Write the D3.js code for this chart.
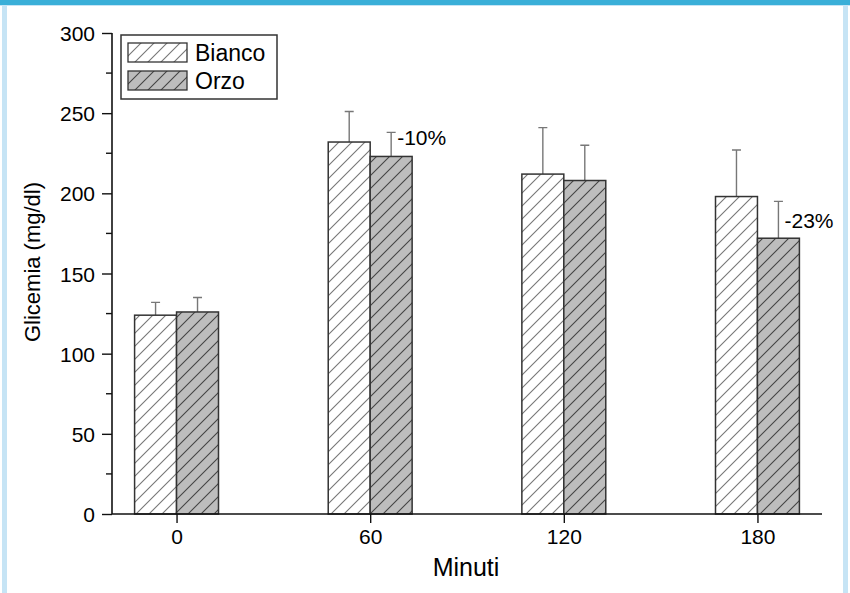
<!DOCTYPE html>
<html>
<head>
<meta charset="utf-8">
<script src="https://cdn.jsdelivr.net/npm/d3@7"></script>
<style>
  body { margin: 0; background: #fff; }
  svg text { font-family: "Liberation Sans", Arial, sans-serif; fill: #000; }
</style>
</head>
<body>
<div class="grafico"></div>
<script>
// dati
const minuti = [0, 60, 120, 180];
const bianco = [124, 232, 212, 198];
const biancoErr = [8, 19, 29, 29];
const orzo = [126, 223, 208, 172];
const orzoErr = [9, 15, 22, 23];
const yTicks = [0, 50, 100, 150, 200, 250, 300];
const yMinor = [25, 75, 125, 175, 225, 275];
const serie = ["Bianco", "Orzo"];
const note = [{ min: 60, label: "-10%" }, { min: 180, label: "-23%" }];

const width = 850, height = 593;
const barMin = 13; // larghezza barra in minuti

const svg = d3.select(".grafico")
    .append("svg")
    .attr("width", width)
    .attr("height", height);

// cornice azzurra
svg.append("rect").attr("x", 0).attr("y", 0).attr("width", width).attr("height", 6).attr("fill", "#c6e4f5");
svg.append("rect").attr("x", 0).attr("y", 0).attr("width", width).attr("height", 5).attr("fill", "#3aafd8");
svg.append("rect").attr("x", 2).attr("y", 5).attr("width", 5).attr("height", height).attr("fill", "#c6e4f5");
svg.append("rect").attr("x", 843).attr("y", 5).attr("width", 5).attr("height", height).attr("fill", "#c6e4f5");

const defs = svg.append("defs");
function hatch(id, bg, line) {
    const p = defs.append("pattern")
        .attr("id", id)
        .attr("patternUnits", "userSpaceOnUse")
        .attr("width", 13)
        .attr("height", 13);
    p.append("rect").attr("width", 13).attr("height", 13).attr("fill", bg);
    p.append("path")
        .attr("d", "M-1,1 l2,-2 M0,13 l13,-13 M12,14 l2,-2")
        .attr("stroke", line)
        .attr("stroke-width", 1.1);
}
hatch("h-bianco", "#ffffff", "#777");
hatch("h-orzo", "#bdbdbd", "#444");
const fills = { Bianco: "url(#h-bianco)", Orzo: "url(#h-orzo)" };

const x = d3.scaleLinear().domain([-20, 200]).range([112, 822]);
const y = d3.scaleLinear().domain([0, 300]).range([514, 33]);

// assi
const yAxis = svg.append("g")
    .attr("transform", "translate(112,0)")
    .call(d3.axisLeft(y).tickValues(yTicks).tickSize(10).tickPadding(7));
yAxis.select(".domain").attr("d", `M0,${y(0)}V${y(300)}`).attr("stroke", "#111").attr("stroke-width", 1.6);
yAxis.selectAll(".tick line").attr("stroke", "#111").attr("stroke-width", 1.4);
yAxis.selectAll("text").style("font-size", "21px").attr("dy", "0.36em");

svg.append("g").selectAll("line")
    .data(yMinor)
    .enter().append("line")
    .attr("x1", 106).attr("x2", 112)
    .attr("y1", d => y(d)).attr("y2", d => y(d))
    .attr("stroke", "#111").attr("stroke-width", 1.4);

const bars = svg.append("g");
const dati = [];
minuti.forEach((m, i) => {
    dati.push({ min: m, s: "Bianco", v: bianco[i], e: biancoErr[i], x0: m - barMin, x1: m });
    dati.push({ min: m, s: "Orzo", v: orzo[i], e: orzoErr[i], x0: m, x1: m + barMin });
});

// barre di errore (solo verso l'alto)
bars.selectAll(".err")
    .data(dati)
    .enter().append("path")
    .attr("class", "err")
    .attr("d", d => {
        const cx = x((d.x0 + d.x1) / 2);
        return `M${cx},${y(d.v)}V${y(d.v + d.e)}M${cx - 4.5},${y(d.v + d.e)}H${cx + 4.5}`;
    })
    .attr("fill", "none")
    .attr("stroke", "#777")
    .attr("stroke-width", 1.4);

bars.selectAll(".bar")
    .data(dati)
    .enter().append("rect")
    .attr("class", "bar")
    .attr("x", d => x(d.x0))
    .attr("width", d => x(d.x1) - x(d.x0))
    .attr("y", d => y(d.v))
    .attr("height", d => y(0) - y(d.v))
    .attr("fill", d => fills[d.s])
    .attr("stroke", "#333")
    .attr("stroke-width", 1.5);

const xAxis = svg.append("g")
    .attr("transform", `translate(0,${y(0)})`)
    .call(d3.axisBottom(x).tickValues(minuti).tickSize(9).tickPadding(6));
xAxis.select(".domain").attr("d", `M112,0H822`).attr("stroke", "#111").attr("stroke-width", 1.6);
xAxis.selectAll(".tick line").attr("stroke", "#111").attr("stroke-width", 1.4);
xAxis.selectAll("text").style("font-size", "21px");

// etichette assi
svg.append("text")
    .attr("x", 466).attr("y", 576)
    .attr("text-anchor", "middle")
    .style("font-size", "25px")
    .text("Minuti");

svg.append("text")
    .attr("transform", "translate(40,262) rotate(-90)")
    .attr("text-anchor", "middle")
    .style("font-size", "22px")
    .text("Glicemia (mg/dl)");

// percentuali
svg.selectAll(".nota")
    .data(note)
    .enter().append("text")
    .attr("class", "nota")
    .attr("x", d => x(d.min) + 27)
    .attr("y", d => {
        const i = minuti.indexOf(d.min);
        return y(orzo[i] + orzoErr[i]) + (d.min === 60 ? 13 : 27);
    })
    .style("font-size", "21px")
    .text(d => d.label);

// legenda
const leg = svg.append("g").attr("transform", "translate(121,35)");
leg.append("rect")
    .attr("width", 156).attr("height", 64)
    .attr("fill", "#fff").attr("stroke", "#333").attr("stroke-width", 1.5);
const item = leg.selectAll(".item")
    .data(serie)
    .enter().append("g")
    .attr("transform", (d, i) => `translate(7,${8 + i * 28})`);
item.append("rect")
    .attr("width", 59).attr("height", 19)
    .attr("fill", d => fills[d])
    .attr("stroke", "#333").attr("stroke-width", 1.3);
item.append("text")
    .attr("x", 67).attr("y", 18)
    .style("font-size", "23px")
    .text(d => d);
</script>
</body>
</html>
